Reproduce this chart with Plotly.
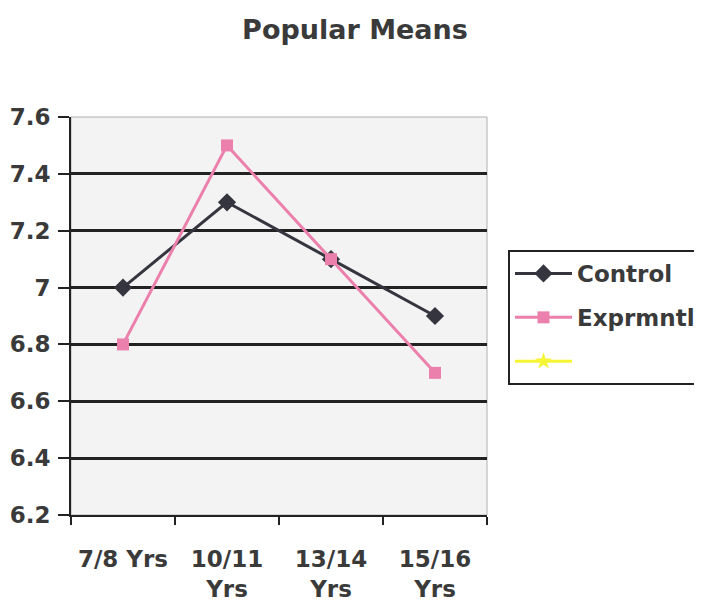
import plotly.graph_objects as go

categories = ["7/8 Yrs", "10/11<br>Yrs", "13/14<br>Yrs", "15/16<br>Yrs"]
control = [7.0, 7.3, 7.1, 6.9]
exprmntl = [6.8, 7.5, 7.1, 6.7]
y_ticks = [6.2, 6.4, 6.6, 6.8, 7.0, 7.2, 7.4, 7.6]
y_labels = ["6.2", "6.4", "6.6", "6.8", "7", "7.2", "7.4", "7.6"]

font_family = "DejaVu Sans, sans-serif"
txt = "#3a3a3a"

# page body adds an 8px offset; positions below compensate
OFF = 8
W, H = 702, 612
L, R, T, B = 71 - OFF, 487 - OFF, 117 - OFF, 515 - OFF

fig = go.Figure()
fig.add_trace(go.Scatter(
    x=categories, y=control, name="<b>Control</b>", mode="lines+markers",
    line=dict(color="#35353f", width=3),
    marker=dict(symbol="diamond", size=14, color="#35353f"),
    legendgroup="a"))
fig.add_trace(go.Scatter(
    x=categories, y=exprmntl, name="<b>Exprmntl</b>", mode="lines+markers",
    line=dict(color="#ec80ac", width=3),
    marker=dict(symbol="square", size=12, color="#ec80ac"),
    legendgroup="b"))
fig.add_trace(go.Scatter(
    x=[categories[0]], y=[None], name=" ", mode="lines+markers",
    line=dict(color="#f5f536", width=3),
    marker=dict(symbol="star", size=13, color="#f5f536"),
    legendgroup="c"))

fig.update_layout(
    width=W, height=H,
    margin=dict(l=L, r=W - R, t=T, b=H - B, autoexpand=False),
    paper_bgcolor="white", plot_bgcolor="#f3f3f3",
    font=dict(family=font_family, size=23, color=txt),
    title=dict(text="<b>Popular Means</b>", x=(355 - OFF) / W, xanchor="center",
               xref="container", yref="container",
               y=1 - (30 - OFF) / H, yanchor="middle",
               font=dict(size=27, color=txt)),
    legend=dict(x=(508 - 71) / 416, xanchor="left", y=(515 - 250) / 398, yanchor="top",
                bordercolor="#222222", borderwidth=2, bgcolor="white",
                font=dict(size=23, color=txt), tracegroupgap=11,
                itemwidth=57),
    showlegend=True,
)
fig.update_xaxes(
    type="category", tickson="boundaries", ticks="outside", ticklen=8, tickwidth=2,
    tickcolor="#222222", showline=True, linecolor="#222222", linewidth=2,
    showgrid=False, tickfont=dict(size=23, color=txt), automargin=False,
    range=[-0.5, 3.5], ticklabelstandoff=22,
    tickvals=categories, ticktext=[f"<b>{c}</b>" for c in categories])
fig.update_yaxes(
    range=[6.2, 7.6], tickvals=y_ticks, ticktext=[f"<b>{t}</b>" for t in y_labels],
    ticks="outside", ticklen=11, tickwidth=2, tickcolor="#222222",
    showline=True, linecolor="#222222", linewidth=2, automargin=False,
    showgrid=True, gridcolor="#222222", gridwidth=2.5, zeroline=False,
    tickfont=dict(size=23, color=txt), ticklabelstandoff=3)

# light border on top/right of plot area
fig.add_shape(type="rect", xref="paper", yref="paper", x0=0, x1=1, y0=0, y1=1,
              line=dict(color="#b0b0b0", width=1), layer="below")

fig.write_html("out.html")
